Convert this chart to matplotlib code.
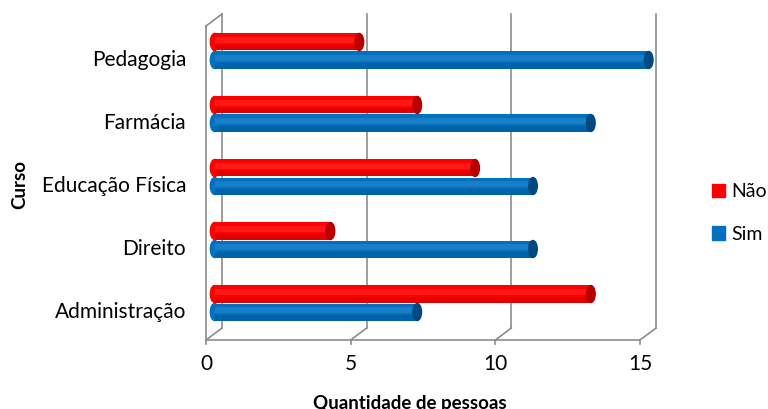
import matplotlib.pyplot as plt
import numpy as np
from matplotlib.patches import Ellipse, Patch

cursos = ["Administração", "Direito", "Educação Física", "Farmácia", "Pedagogia"]
sim = [7, 11, 11, 13, 15]
nao = [13, 4, 9, 7, 5]
xticks = [0, 5, 10, 15]

RED, RED_D = "#ff0000", "#b80000"
BLUE, BLUE_D = "#0070c0", "#004a80"
GRID = "#8c8c8c"

plt.rcParams["font.family"] = ["Lato", "DejaVu Sans"]

fig = plt.figure(figsize=(7.68, 4.09), dpi=100)
W, H = 768, 409
ax = fig.add_axes([206 / W, (H - 340) / H, 434 / W, 326 / H])
ax.set_xlim(0, 15)
ax.set_ylim(-0.444, 4.73)
ax.axis("off")

# pseudo-3D depth offsets (data units)
dx, dy = 0.553, 0.19
y0 = -0.444
ytop = 4.73
kw = dict(color=GRID, lw=1.2, clip_on=False, zorder=1)
for v in xticks:
    ax.plot([v + dx, v + dx], [y0 + dy, ytop], **kw)
    ax.plot([v, v + dx], [y0, y0 + dy], **kw)
    ax.plot([v, v], [y0, y0 - 0.07], **kw)
ax.plot([0, 15], [y0, y0], **kw)
ax.plot([0, 0], [y0, ytop - dy], **kw)
ax.plot([0, dx], [ytop - dy, ytop], **kw)

y = np.arange(len(cursos))
h = 0.27
off = 0.3
ew = 0.3


def cylinder(yc, val, col, dark):
    ax.barh(yc, val, left=off, height=h, color=col, zorder=3, clip_on=False)
    ax.barh(yc + h * 0.12, val, left=off, height=h * 0.35, color="white", alpha=0.1,
            zorder=4, lw=0, clip_on=False)
    ax.barh(yc - h * 0.35, val, left=off, height=h * 0.3, color="black", alpha=0.12,
            zorder=4, lw=0, clip_on=False)
    ax.add_patch(Ellipse((off, yc), ew, h, color=col, zorder=3, clip_on=False))
    ax.add_patch(Ellipse((off + val, yc), ew, h, color=dark, zorder=5, clip_on=False))


for i in range(len(cursos)):
    cylinder(y[i], sim[i], BLUE, BLUE_D)
    cylinder(y[i] + 0.286, nao[i], RED, RED_D)

for i, c in enumerate(cursos):
    fig.text(186 / W, 1 - (312 - 63 * i) / H, c, ha="right", va="center", fontsize=15)

for v in xticks:
    ax.text(v, y0 - 0.22, str(v), ha="center", va="top", fontsize=15)

fig.text(410 / W, 1 - 404 / H, "Quantidade de pessoas", ha="center", va="center",
         fontsize=13.5, fontweight="bold")
fig.text(20 / W, 1 - 185 / H, "Curso", rotation=90, ha="center", va="center",
         fontsize=13.5, fontweight="bold")

handles = [Patch(color=RED, label="Não"), Patch(color=BLUE, label="Sim")]
fig.legend(handles=handles, loc="center left", bbox_to_anchor=(694 / W, 1 - 213 / H),
           frameon=False, fontsize=14, handlelength=0.7, handleheight=0.7,
           handletextpad=0.3, labelspacing=1.3)

fig.savefig("out.png", dpi=100)
